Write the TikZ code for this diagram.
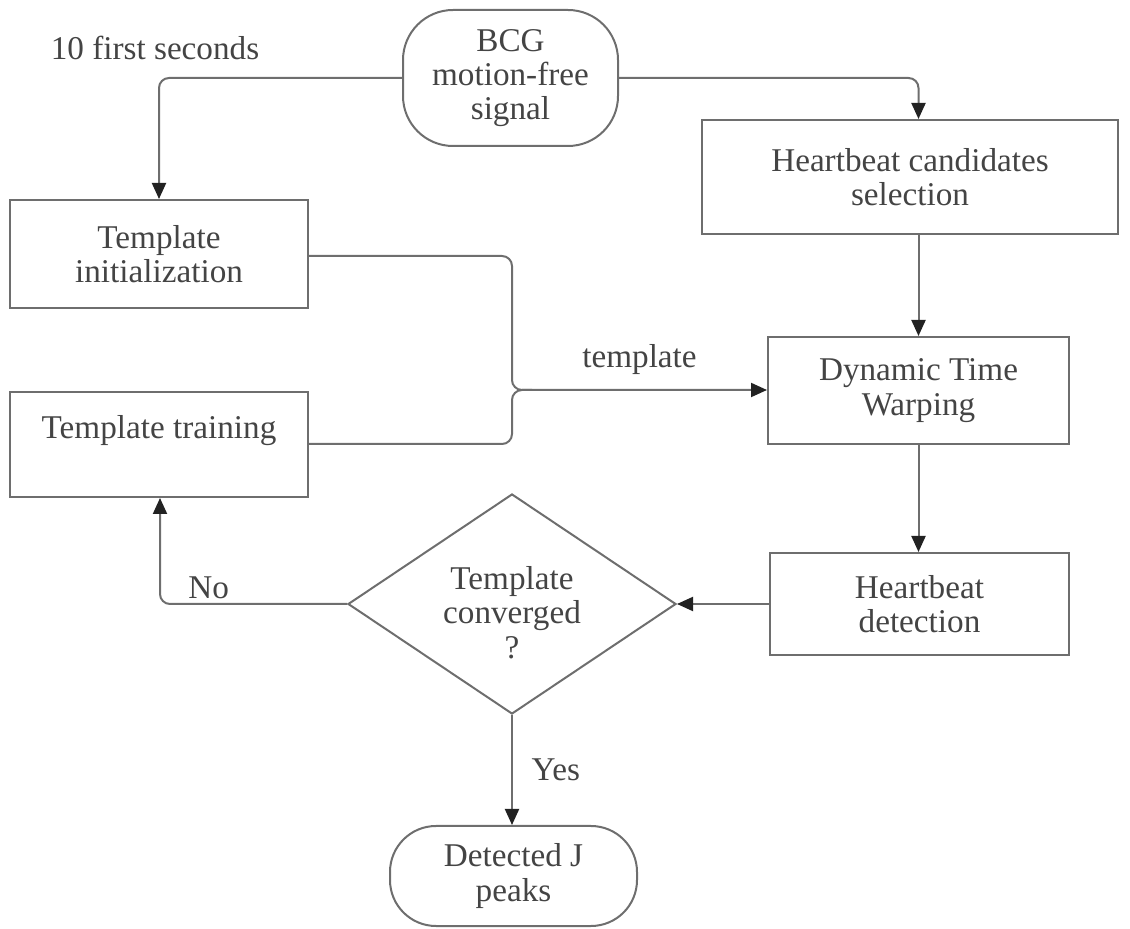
\documentclass[tikz,border=0pt]{standalone}
\usepackage{fontspec}
\setmainfont{Liberation Serif}
\usetikzlibrary{arrows.meta,positioning,shapes.geometric}

\definecolor{linegray}{HTML}{6E6E6E}
\definecolor{textgray}{HTML}{444444}
\definecolor{tipgray}{HTML}{222222}

\begin{document}
\begin{tikzpicture}[
  x=0.5pt, y=-0.5pt,
  every node/.style={font=\fontsize{16.6}{17.2}\selectfont, text=textgray},
  box/.style={draw=linegray, line width=1pt, align=center, inner sep=2pt},
  terminal/.style={box, rounded corners=25pt},
  decision/.style={draw=linegray, line width=1pt, diamond, aspect=1.5,
                   align=center, inner sep=0pt,
                   minimum width=164pt, minimum height=110pt},
  flow/.style={draw=linegray, line width=1pt, rounded corners=5pt,
               -{Triangle[length=8pt,width=7pt,color=tipgray]}},
  plain/.style={draw=linegray, line width=1pt, rounded corners=5pt},
]
\useasboundingbox (0,0) rectangle (1130,929);

% start / end
\node[terminal, minimum width=107.5pt, minimum height=68pt] (bcg) at (510.5,78)
  {BCG\\motion-free\\signal};
\node[terminal, rounded corners=23pt, minimum width=123.5pt, minimum height=50pt] (peaks) at (513.5,876)
  {Detected J\\peaks};

% processing boxes
\node[box, minimum width=149pt, minimum height=54pt] (tinit) at (159,254)
  {Template\\initialization};
\node[box, minimum width=149pt, minimum height=52.5pt] (ttrain) at (159,444.5)
  {Template training\\~};
\node[box, minimum width=208pt, minimum height=57pt] (cand) at (910,177)
  {Heartbeat candidates\\selection};
\node[box, minimum width=150.5pt, minimum height=53.5pt] (dtw) at (918.5,390.5)
  {Dynamic Time\\Warping};
\node[box, minimum width=149.5pt, minimum height=51pt] (hbdet) at (919.5,604)
  {Heartbeat\\detection};

\node[decision] (conv) at (512,604) {\rule{0pt}{20pt}Template\\converged\\?};

% merge point of the two template branches
\coordinate (merge) at (512,390);

% signal split
\draw[flow] (bcg.west) -| (tinit.north);
\draw[flow] (bcg.east) -| (dtw.north |- cand.north);
\node at (155,48) {10 first seconds};

% main chain
\draw[flow] (dtw.north |- cand.south) -- (dtw.north);
\draw[flow] (dtw.south) -- (dtw.south |- hbdet.north);
\draw[flow] (hbdet.west) -- (conv.east);

% template branches
\draw[plain] (ttrain.east |- 0,444) -| (merge) -- ++(20,0);
\draw[flow] (tinit.east |- 0,256) -| (merge) -- (dtw.west |- merge)
  node[pos=0.5, above=4pt] {template};

% decision outcomes
\draw[flow] (conv.west) -| (ttrain.south -| 160,0)
  node[pos=0.37, above=-1pt] {No};
\draw[flow] (conv.south) -- (conv.south |- peaks.north)
  node[midway, right=6pt] {Yes};
\end{tikzpicture}
\end{document}
